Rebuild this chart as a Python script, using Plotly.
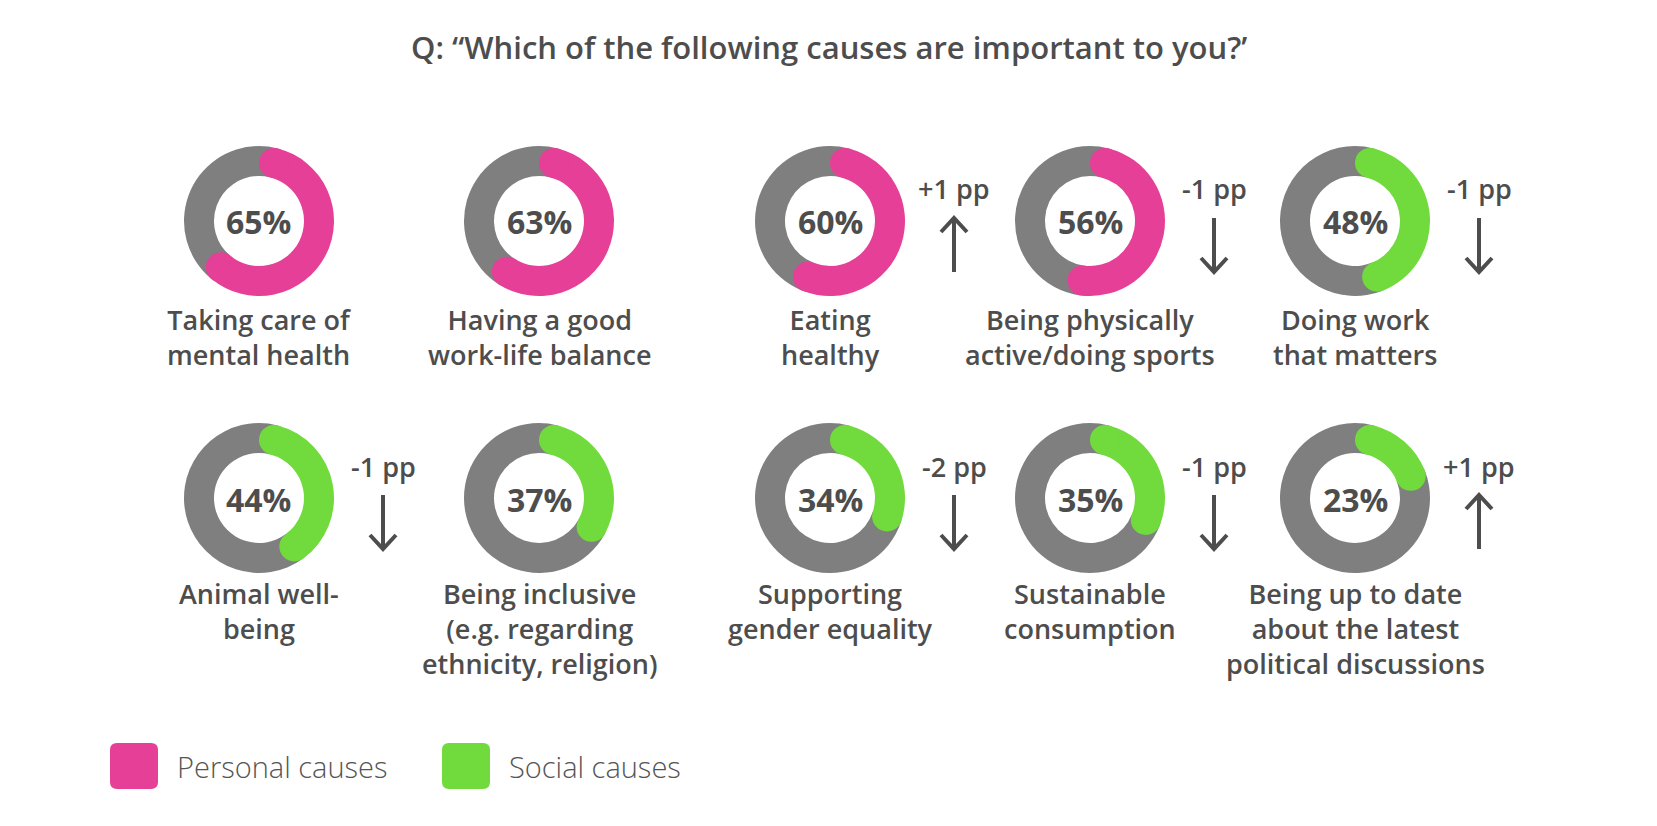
import math
import plotly.graph_objects as go

# survey answers
causes = [
    "Taking care of<br>mental health",
    "Having a good<br>work-life balance",
    "Eating<br>healthy",
    "Being physically<br>active/doing sports",
    "Doing work<br>that matters",
    "Animal well-<br>being",
    "Being inclusive<br>(e.g. regarding<br>ethnicity, religion)",
    "Supporting<br>gender equality",
    "Sustainable<br>consumption",
    "Being up to date<br>about the latest<br>political discussions",
]
shares = [65, 63, 60, 56, 48, 44, 37, 34, 35, 23]
changes_pp = [None, None, 1, -1, -1, -1, None, -2, -1, 1]
cause_type = ["Personal", "Personal", "Personal", "Personal",
              "Social", "Social", "Social", "Social", "Social", "Social"]
legend_types = ["Personal", "Social"]
legend_labels = ["Personal causes", "Social causes"]

type_colors = {"Personal": "#E63F97", "Social": "#71DA3C"}
GREY = "#7F7F7F"
TEXT = "#4D4D4D"
FONT = "Open Sans"

# page geometry (pixels of the 1657x826 window); the page body has an 8px margin
PAGE_W, PAGE_H = 1657, 826
OFF = 8
W, H = PAGE_W - 2 * OFF, PAGE_H - 2 * OFF
col_x = [259, 539, 830, 1090, 1355]
row_y = [221, 498]
label_dy = [78, 75]
R_OUT, R_IN = 75, 45
R_MID = (R_OUT + R_IN) / 2
CAP = (R_OUT - R_IN) / 2
PP_DX = 124


def px(x):
    return (x - OFF) / W


def py(y):
    return 1 - (y - OFF) / H


fig = go.Figure()
shapes = []
annotations = []
arrow_x, arrow_y = [], []

cap_pct = math.degrees(math.asin(CAP / R_MID)) / 3.6

for i, (label, share, delta, kind) in enumerate(zip(causes, shares, changes_pp, cause_type)):
    cx = col_x[i % 5]
    cy = row_y[i // 5]
    color = type_colors[kind]

    fig.add_trace(go.Pie(
        values=[cap_pct, share - 2 * cap_pct, 100 - share + cap_pct],
        marker=dict(colors=[GREY, color, GREY], line=dict(width=0)),
        hole=R_IN / R_OUT, sort=False, direction="clockwise", rotation=0,
        textinfo="none", hoverinfo="skip", showlegend=False,
        domain=dict(x=[px(cx - R_OUT), px(cx + R_OUT)], y=[py(cy + R_OUT), py(cy - R_OUT)]),
    ))

    # rounded ends of the coloured arc
    for ang in (cap_pct * 3.6, (share - cap_pct) * 3.6):
        t = math.radians(ang)
        ex = cx + R_MID * math.sin(t)
        ey = cy - R_MID * math.cos(t)
        shapes.append(dict(
            type="circle", layer="above", xref="paper", yref="paper",
            xsizemode="pixel", ysizemode="pixel", xanchor=px(ex), yanchor=py(ey),
            x0=-CAP, x1=CAP, y0=-CAP, y1=CAP,
            fillcolor=color, line=dict(width=0),
        ))

    annotations.append(dict(
        x=px(cx), y=py(cy + 1), xref="paper", yref="paper", text=f"{share}%",
        showarrow=False, xanchor="center", yanchor="middle",
        font=dict(family=FONT, size=32, color=TEXT, weight="bold"),
    ))
    annotations.append(dict(
        x=px(cx), y=py(cy + label_dy[i // 5]), xref="paper", yref="paper", text=label,
        showarrow=False, xanchor="center", yanchor="top",
        font=dict(family=FONT, size=27, color=TEXT, weight=600),
    ))

    if delta is not None:
        ax = cx + PP_DX
        annotations.append(dict(
            x=px(ax), y=py(cy - 32), xref="paper", yref="paper",
            text=f"{delta:+d} pp" if delta > 0 else f"{delta:d} pp",
            showarrow=False, xanchor="center", yanchor="middle",
            font=dict(family=FONT, size=27, color=TEXT, weight=600),
        ))
        top, bottom = cy - 3, cy + 51
        if delta > 0:
            arrow_x += [ax, ax, None, ax - 13, ax, ax + 13, None]
            arrow_y += [bottom, top, None, top + 14, top, top + 14, None]
        else:
            arrow_x += [ax, ax, None, ax - 13, ax, ax + 13, None]
            arrow_y += [top, bottom, None, bottom - 14, bottom, bottom - 14, None]

fig.add_trace(go.Scatter(
    x=arrow_x, y=arrow_y, mode="lines",
    line=dict(color=TEXT, width=4),
    hoverinfo="skip", showlegend=False,
))

# legend: rounded squares + labels
legend_x = [134, 466]
legend_y = 766
r = 7
hw, hh = 24, 23
box = (f"M {-hw + r},{-hh} L {hw - r},{-hh} Q {hw},{-hh} {hw},{-hh + r} "
       f"L {hw},{hh - r} Q {hw},{hh} {hw - r},{hh} L {-hw + r},{hh} "
       f"Q {-hw},{hh} {-hw},{hh - r} L {-hw},{-hh + r} Q {-hw},{-hh} {-hw + r},{-hh} Z")
for lx, kind, name in zip(legend_x, legend_types, legend_labels):
    shapes.append(dict(
        type="path", path=box, layer="above", xref="paper", yref="paper",
        xsizemode="pixel", ysizemode="pixel", xanchor=px(lx), yanchor=py(legend_y),
        fillcolor=type_colors[kind], line=dict(width=0),
    ))
    annotations.append(dict(
        x=px(lx + hw + 17), y=py(legend_y), xref="paper", yref="paper", text=name,
        showarrow=False, xanchor="left", yanchor="middle",
        font=dict(family=FONT, size=29, color="#555555", weight=300),
    ))

annotations.append(dict(
    x=px(PAGE_W / 2), y=py(47), xref="paper", yref="paper",
    text="Q: “Which of the following causes are important to you?’",
    showarrow=False, xanchor="center", yanchor="middle",
    font=dict(family=FONT, size=31, color=TEXT, weight=600),
))

fig.update_layout(
    width=W, height=H,
    margin=dict(l=0, r=0, t=0, b=0, pad=0),
    paper_bgcolor="white", plot_bgcolor="white",
    xaxis=dict(range=[OFF, OFF + W], visible=False, fixedrange=True),
    yaxis=dict(range=[OFF + H, OFF], visible=False, fixedrange=True),
    shapes=shapes, annotations=annotations,
    showlegend=False,
)

fig.write_html("out.html")
